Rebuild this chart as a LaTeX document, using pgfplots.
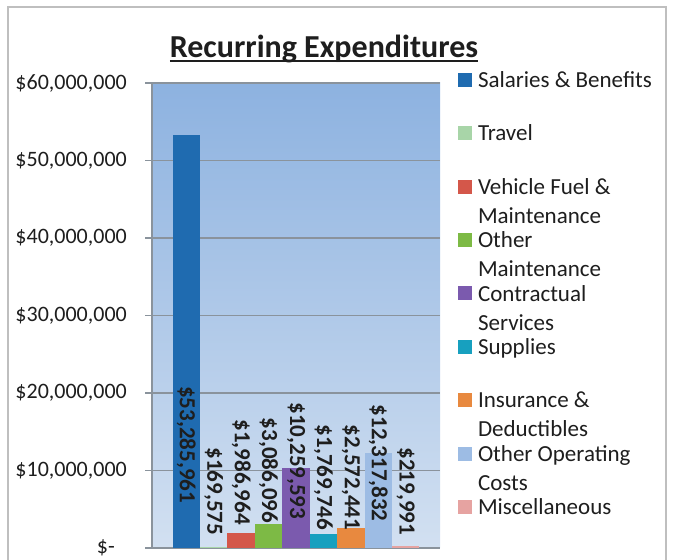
\documentclass[border=0pt]{standalone}
\usepackage{pgfplots}
\pgfplotsset{compat=1.18}
\usepackage{fontspec}
\setmainfont{Carlito}
\definecolor{c1}{HTML}{1F6BB0}
\definecolor{c2}{HTML}{A8D5A8}
\definecolor{c3}{HTML}{D4574A}
\definecolor{c4}{HTML}{7DBA45}
\definecolor{c5}{HTML}{7B5AAE}
\definecolor{c6}{HTML}{17A0BF}
\definecolor{c7}{HTML}{E8893F}
\definecolor{c8}{HTML}{9DBCE4}
\definecolor{c9}{HTML}{E6A3A1}
\definecolor{bgtop}{HTML}{8DB2E0}
\definecolor{bgbot}{HTML}{D2E0F1}
\definecolor{gridc}{HTML}{8A939C}
\definecolor{txt}{HTML}{1E1E1E}
\newcommand\titleul[1]{\setbox0\hbox{#1}\rlap{\color{txt}\rule[-4.5bp]{\wd0}{2.5bp}}\box0}
\pgfplotsset{
  mybar/.style={ybar, bar width=1, bar shift=0pt, draw=none, fill=#1,
    legend image code/.code={\fill[##1] (0bp,11.5bp) rectangle (14bp,25.5bp);}},
}
\begin{document}
\begin{tikzpicture}[x=1bp,y=1bp]
\useasboundingbox (0,0) rectangle (673,560);
\clip (0,0) rectangle (673,560);
\fill[white] (0,0) rectangle (673,560);
\draw[black!25, line width=1.3bp] (8,-10) rectangle (666,553);
\node[anchor=base, inner sep=0pt, text=txt, font=\fontsize{32bp}{36bp}\selectfont\bfseries] at (324,502) {\titleul{Recurring Expenditures}};
\begin{axis}[
  at={(152bp,12bp)}, anchor=south west,
  scale only axis, width=288bp, height=465bp,
  xmin=-0.25, xmax=10.25, ymin=0, ymax=60000000,
  xtick=\empty,
  ytick={0,10000000,20000000,30000000,40000000,50000000,60000000},
  yticklabels={{\$-\hspace*{12bp}},{\$10,000,000},{\$20,000,000},{\$30,000,000},{\$40,000,000},{\$50,000,000},{\$60,000,000}},
  scaled y ticks=false,
  /pgf/number format/assume math mode=true,
  axis lines*=left,
  axis line style={gridc, line width=1.2bp},
  ymajorgrids, grid style={gridc, line width=1.2bp},
  tick align=outside, major tick length=7bp,
  ytick style={gridc, line width=1.2bp},
  yticklabel style={font=\fontsize{22bp}{26bp}\selectfont, text=txt, anchor=east, inner sep=0pt, xshift=-18bp},
  axis background/.style={top color=bgtop, bottom color=bgbot},
  legend style={at={(axis description cs:1.0625,1.0247)}, anchor=north west,
    draw=none, fill=none, inner sep=0pt, outer sep=0pt, row sep=0pt, column sep=6bp,
    font=\fontsize{23bp}{28bp}\selectfont, text=txt,
    cells={anchor=base west},
    nodes={inner sep=0pt, text height=16bp, text depth=37.4bp}},
  legend cell align=left,
]
\addplot[mybar=c1] coordinates {(1,53285961)};
\addlegendentry{Salaries \& Benefits}
\addplot[mybar=c2] coordinates {(2,169575)};
\addlegendentry{Travel}
\addplot[mybar=c3] coordinates {(3,1986964)};
\addlegendentry{\parbox[t]{185bp}{\setlength{\baselineskip}{29bp}Vehicle Fuel \&\\Maintenance}}
\addplot[mybar=c4] coordinates {(4,3086096)};
\addlegendentry{\parbox[t]{185bp}{\setlength{\baselineskip}{29bp}Other\\Maintenance}}
\addplot[mybar=c5] coordinates {(5,10259593)};
\addlegendentry{\parbox[t]{185bp}{\setlength{\baselineskip}{29bp}Contractual\\Services}}
\addplot[mybar=c6] coordinates {(6,1769746)};
\addlegendentry{Supplies}
\addplot[mybar=c7] coordinates {(7,2572441)};
\addlegendentry{\parbox[t]{185bp}{\setlength{\baselineskip}{29bp}Insurance \&\\Deductibles}}
\addplot[mybar=c8] coordinates {(8,12317832)};
\addlegendentry{\parbox[t]{185bp}{\setlength{\baselineskip}{29bp}Other Operating\\Costs}}
\addplot[mybar=c9] coordinates {(9,219991)};
\addlegendentry{Miscellaneous}
\begin{scope}[every node/.style={rotate=-90, anchor=west, inner sep=0pt, text=txt, font=\fontsize{23bp}{26bp}\selectfont\bfseries}]
\node at (axis cs:1,20900000) {\$53,285,961};
\node at (axis cs:2,13000000) {\$169,575};
\node at (axis cs:3,16600000) {\$1,986,964};
\node at (axis cs:4,16800000) {\$3,086,096};
\node at (axis cs:5,18800000) {\$10,259,593};
\node at (axis cs:6,15900000) {\$1,769,746};
\node at (axis cs:7,15900000) {\$2,572,441};
\node at (axis cs:8,18500000) {\$12,317,832};
\node at (axis cs:9,13000000) {\$219,991};
\end{scope}
\end{axis}
\end{tikzpicture}
\end{document}
